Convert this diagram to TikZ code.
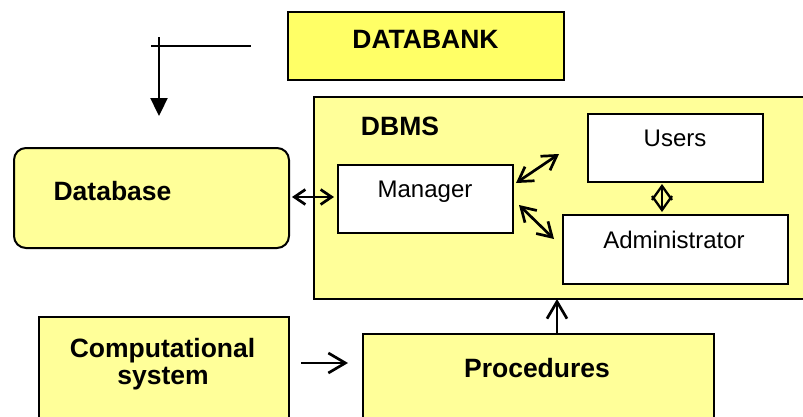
\documentclass[tikz,border=0pt]{standalone}
\usepackage{fontspec}
\setmainfont{Liberation Sans}
\usetikzlibrary{arrows.meta}
\definecolor{paleY}{HTML}{FFFF99}
\definecolor{brightY}{HTML}{FFFF66}
\begin{document}
\begin{tikzpicture}[x=1pt,y=-1pt,
  box/.style={draw=black,line width=2pt,fill=paleY,inner sep=0pt,anchor=north west},
  wbox/.style={box,fill=white},
  bold/.style={font=\fontsize{26.5}{25}\selectfont\bfseries,anchor=base,inner sep=0pt},
  reg/.style={font=\fontsize{24}{24}\selectfont,anchor=base,inner sep=0pt},
  conn/.style={line width=2.7pt},
  sbar/.tip={Straight Barb[length=11pt,width=15pt,line width=2.7pt]},
  bbar/.tip={Straight Barb[length=17pt,width=20pt,line width=2.7pt]},
  dbar/.tip={Straight Barb[length=14pt,width=17pt,line width=2.7pt]},
  ubar/.tip={Straight Barb[length=14pt,width=20pt,line width=2.3pt]},
  ftri/.tip={Triangle[length=18pt,width=17pt]}
]
\useasboundingbox (0,0) rectangle (803,416);
\clip (0,0) rectangle (803,416);
% boxes
\node[box,fill=brightY,minimum width=276pt,minimum height=68pt] (bank) at (287,11) {};
\node[box,minimum width=520pt,minimum height=202pt] (dbms) at (313,96) {};
\node[box,rounded corners=12pt,minimum width=275pt,minimum height=100pt] (dbase) at (13,147) {};
\node[wbox,minimum width=175pt,minimum height=68pt] (mgr) at (337,164) {};
\node[wbox,minimum width=175pt,minimum height=68pt] (users) at (587,113) {};
\node[wbox,minimum width=225pt,minimum height=69pt] (admin) at (562,214) {};
\node[box,minimum width=250pt,minimum height=130pt] (comp) at (38,316) {};
\node[box,minimum width=351pt,minimum height=120pt] (proc) at (362,333) {};
% texts
\node[bold] (tbank) at (425.5,48) {DATABANK};
\node[bold] (tdbms) at (400,135) {DBMS};
\node[bold] (tdbase) at (112.5,200) {Database};
\node[reg] (tmgr) at (425,197) {Manager};
\node[reg] (tusers) at (675,146) {Users};
\node[reg] (tadmin) at (674,248) {Administrator};
\node[bold] (tcomp1) at (162.5,357) {Computational};
\node[bold] (tcomp2) at (163,384) {system};
\node[bold] (tproc) at (537,377) {Procedures};
% top-left lines
\coordinate (h1) at (151,46);
\coordinate (h2) at (251,46);
\coordinate (v1) at (159,37);
\coordinate (v2) at (159,116);
\draw[line width=2.3pt] (h1) -- (h2);
\draw[line width=2.3pt,-ftri] (v1) -- (v2);
% connectors
\coordinate (a1) at (292,197);
\coordinate (a2) at (334,197);
\draw[conn,sbar-sbar] (a1) -- (a2);
\coordinate (b1) at (516,183);
\coordinate (b2) at (559,154);
\draw[conn,dbar-dbar] (b1) -- (b2);
\coordinate (c1) at (519,205);
\coordinate (c2) at (554,239);
\draw[conn,dbar-dbar] (c1) -- (c2);
\coordinate (d1) at (662,184);
\coordinate (d2) at (662,212);
\draw[line width=2.3pt,ubar-ubar] (d1) -- (d2);
\coordinate (e1) at (301,363);
\coordinate (e2) at (348,363);
\draw[conn,-bbar] (e1) -- (e2);
\coordinate (f1) at (557,333);
\coordinate (f2) at (557,299);
\draw[conn,-bbar] (f1) -- (f2);
\end{tikzpicture}
\end{document}
